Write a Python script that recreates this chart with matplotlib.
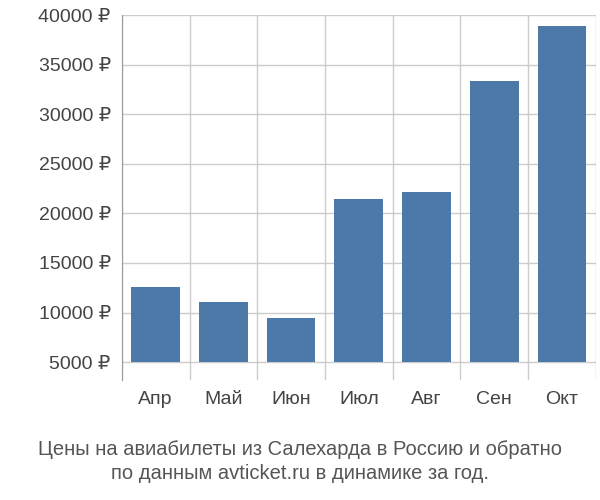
import matplotlib
matplotlib.use("Agg")
import matplotlib.pyplot as plt
import numpy as np

plt.rcParams['font.family'] = ['Liberation Sans', 'DejaVu Sans']

months = ["Апр", "Май", "Июн", "Июл", "Авг", "Сен", "Окт"]
prices = [12600, 11050, 9450, 21450, 22200, 33300, 38900]
yticks = [5000, 10000, 15000, 20000, 25000, 30000, 35000, 40000]

fig = plt.figure(figsize=(6, 5), dpi=100)
ax = fig.add_axes([0.203, 0.24, 0.79, 0.73])
x = np.arange(len(months))
base = 5000
ax.bar(x, [p - base for p in prices], bottom=base, width=0.72, color="#4d79a8", zorder=3)
ax.set_xlim(-0.5, len(months) - 0.5)
ax.set_ylim(3200, 40000)
ax.set_yticks(yticks)
ax.set_yticklabels([f"{v} ₽" for v in yticks], fontsize=14, color="#444444")
ax.set_xticks(x)
ax.set_xticklabels(months, fontsize=14, color="#444444")
ax.tick_params(length=0, pad=8)
for v in yticks:
    ax.axhline(v, color="#cccccc", lw=1, zorder=1)
for b in np.arange(-0.5, len(months), 1.0):
    ax.axvline(b, color="#cccccc", lw=1, zorder=1)
for s in ["top", "right", "bottom"]:
    ax.spines[s].set_visible(False)
ax.spines["left"].set_color("#999999")
fig.text(0.5, 0.077, "Цены на авиабилеты из Салехарда в Россию и обратно\nпо данным avticket.ru в динамике за год.",
         ha="center", va="center", fontsize=14.5, color="#555555", linespacing=1.3)
fig.savefig("out.png")
